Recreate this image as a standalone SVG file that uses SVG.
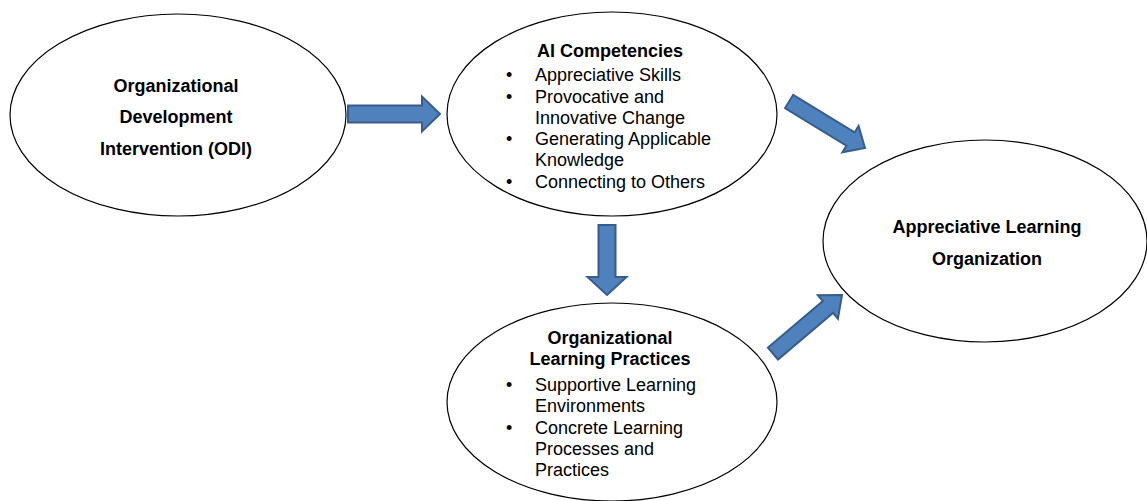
<svg xmlns="http://www.w3.org/2000/svg" width="1147" height="501" viewBox="0 0 1147 501">
<style>
.node ellipse{fill:#fff;stroke:#000;stroke-width:1.2}
text{font-family:"Liberation Sans",Arial,sans-serif;font-size:18px;fill:#000}
.b{font-weight:bold}
.c{text-anchor:middle}
.arr{fill:#4F81BD;stroke:#385D8A;stroke-width:2;stroke-linejoin:miter}
</style>
<rect width="1147" height="501" fill="#fff"/>
<g id="odi" class="node">
<ellipse cx="178" cy="115" rx="168" ry="101"/>
<text class="b c" x="176" y="92">Organizational</text>
<text class="b c" x="176" y="123">Development</text>
<text class="b c" x="176" y="155">Intervention (ODI)</text>
</g>
<g id="ai" class="node">
<ellipse cx="612" cy="114" rx="165" ry="102"/>
<text class="b c" x="610" y="57">AI Competencies</text>
<text x="506" y="81">•</text><text x="535" y="81">Appreciative Skills</text>
<text x="506" y="103">•</text><text x="535" y="103">Provocative and</text>
<text x="535" y="124">Innovative Change</text>
<text x="506" y="145">•</text><text x="535" y="145">Generating Applicable</text>
<text x="535" y="166">Knowledge</text>
<text x="506" y="188">•</text><text x="535" y="188">Connecting to Others</text>
</g>
<g id="olp" class="node">
<ellipse cx="612" cy="402" rx="165" ry="99"/>
<text class="b c" x="610" y="344">Organizational</text>
<text class="b c" x="610" y="365">Learning Practices</text>
<text x="506" y="391">•</text><text x="535" y="391">Supportive Learning</text>
<text x="535" y="412">Environments</text>
<text x="506" y="434">•</text><text x="535" y="434">Concrete Learning</text>
<text x="535" y="455">Processes and</text>
<text x="535" y="476">Practices</text>
</g>
<g id="alo" class="node">
<ellipse cx="985" cy="241" rx="162" ry="101"/>
<text class="b c" x="987" y="233">Appreciative Learning</text>
<text class="b c" x="987" y="265">Organization</text>
</g>
<g id="connectors">
<polygon class="arr" transform="translate(440,114)" points="0,0 -18,-17.5 -18,-8.5 -92,-8.5 -92,8.5 -18,8.5 -18,17.5"/>
<polygon class="arr" transform="translate(607,295) rotate(90)" points="0,0 -18,-19.5 -18,-8.5 -70,-8.5 -70,8.5 -18,8.5 -18,19.5"/>
<polygon class="arr" transform="translate(865,148) rotate(31.5)" points="0,0 -17,-15.5 -17,-7.8 -89,-7.8 -89,7.8 -17,7.8 -17,15.5"/>
<polygon class="arr" transform="translate(842,295) rotate(-40.3)" points="0,0 -18.5,-15.5 -18.5,-7.8 -90.5,-7.8 -90.5,7.8 -18.5,7.8 -18.5,15.5"/>
</g>
</svg>
